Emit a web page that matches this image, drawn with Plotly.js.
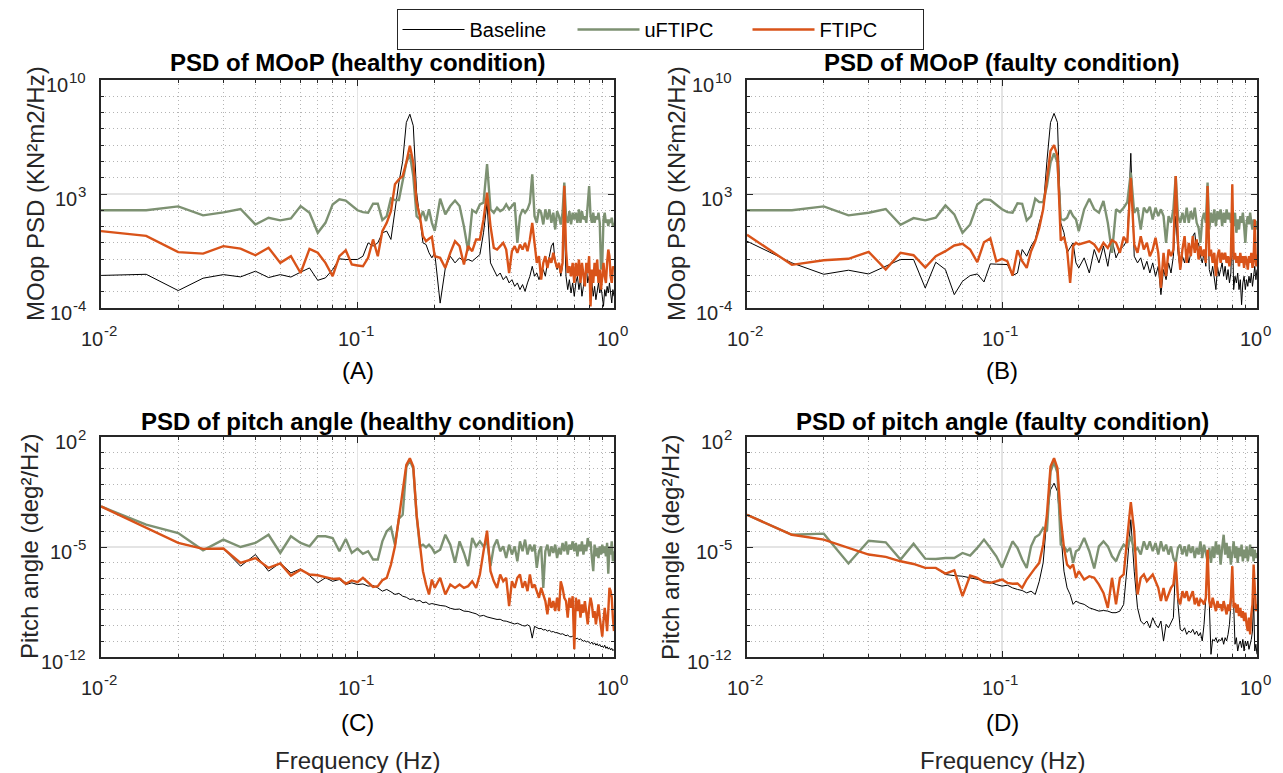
<!DOCTYPE html>
<html>
<head>
<meta charset="utf-8">
<script src="https://cdn.plot.ly/plotly-3.0.1.min.js"></script>
<style>html,body{margin:0;padding:0;background:#fff;}#chart{width:1283px;height:773px;}</style>
</head>
<body>
<div id="chart"></div>
<script>
// Frequency bins (Hz)
const freq = [0.01,0.015,0.02,0.025,0.03,0.035,0.04,0.045,0.05,0.055,0.06,0.065,0.07,0.075,0.08,0.085,0.09,0.095,0.1,
0.105,0.11,0.115,0.12,0.125,0.13,0.135,0.14,0.145,0.15,0.155,0.16,0.165,0.17,0.175,0.18,0.185,0.19,0.195,0.2,
0.21,0.22,0.23,0.24,0.25,0.26,0.27,0.28,0.29,0.3,
0.31,0.32,0.33,0.34,0.35,0.36,0.37,0.38,0.39,0.4,
0.41,0.42,0.43,0.44,0.45,0.46,0.47,0.48,0.49,0.5,
0.51,0.52,0.53,0.54,0.55,0.56,0.57,0.58,0.59,0.6,
0.61,0.62,0.63,0.64,0.65,0.66,0.67,0.68,0.69,0.7,
0.71,0.72,0.73,0.74,0.75,0.76,0.77,0.78,0.79,0.8,
0.81,0.82,0.83,0.84,0.85,0.86,0.87,0.88,0.89,0.9,
0.91,0.92,0.93,0.94,0.95,0.96,0.97,0.98,0.99,1.0];

// All PSD values below are log10(PSD).
// (A) MOoP, healthy
const moopHealthyBaseline = [-2.0,-1.93,-2.93,-2.17,-1.95,-2.09,-1.74,-2.13,-1.95,-2.1,-1.8,-1.54,-2.3,-2.15,-1.64,-0.98,-1.02,-1.02,-1.02,
-0.82,0.0,-0.2,0.0,0.62,0.72,0.21,2.06,3.7,5.0,7.39,7.9,7.19,3.08,1.64,0.0,-0.1,-0.61,-0.92,-0.61,
-3.7,-1.54,-0.82,-1.23,-0.92,-1.13,-1.02,-1.13,-0.92,-0.72,
0.62,2.47,-1.23,-1.64,-2.05,-1.85,-2.26,-2.05,-2.46,-2.26,
-2.67,-2.46,-2.87,-2.56,-2.98,-2.46,-2.05,-1.44,-2.05,-1.85,
-2.26,-1.85,-1.64,-2.05,-1.23,-0.82,-0.2,0.0,-1.23,-1.64,
-1.23,-2.05,-1.44,1.44,-2.05,-2.87,-2.26,-3.08,-2.46,-3.28,
-2.46,-2.05,-2.87,-2.26,-3.28,-2.67,-2.05,-1.44,-2.46,-2.05,
-3.08,-2.46,-3.28,-2.67,-3.49,-2.87,-2.46,-3.08,-2.67,-3.28,
-3.9,-2.87,-3.28,-2.67,-3.08,-2.46,-3.28,-3.69,-2.87,-3.28];
const moopHealthyUFTIPC = [2.0,2.0,2.24,1.69,1.87,2.08,1.13,1.54,1.38,1.5,2.26,1.85,0.62,1.23,2.36,2.67,2.6,2.26,2.0,
1.89,1.85,2.4,2.4,1.4,1.64,2.73,2.63,2.63,3.7,4.93,5.44,4.1,1.64,1.44,1.95,1.34,2.06,1.23,0.74,
2.71,1.75,2.26,2.6,2.26,1.0,-0.5,2.01,1.85,2.36,
2.47,4.83,2.06,1.85,2.16,1.95,2.06,2.36,2.06,2.26,
2.47,0.0,1.64,2.06,1.85,2.06,2.47,4.21,1.64,1.23,
2.06,1.85,1.13,2.06,1.44,2.06,1.23,1.85,0.82,1.95,
1.64,1.13,1.85,3.7,1.64,1.23,1.95,1.13,1.85,1.44,
1.85,1.23,2.06,1.23,1.95,1.44,1.64,1.23,2.47,3.49,
1.64,1.23,1.85,1.23,1.64,1.44,1.85,1.23,-1.64,-1.23,
1.44,1.85,1.23,1.44,1.03,1.44,1.23,1.54,1.03,1.23];
const moopHealthyFTIPC = [0.72,0.43,-0.57,-0.66,-0.2,-0.35,-0.76,-0.3,-1.23,-0.82,-1.85,-0.37,-0.61,-1.23,-2.05,-0.82,-0.45,-1.33,-1.39,
-1.44,-0.92,0.21,-0.82,0.72,1.23,1.95,3.6,3.9,4.1,4.93,5.96,4.93,2.47,1.64,0.41,0.1,0.25,0.37,-0.82,
-0.92,-1.54,-0.61,0.1,-0.2,-1.33,-0.2,-0.51,0.21,0.21,
1.44,3.08,1.03,-0.31,-0.41,-0.2,0.0,-0.41,-1.85,-0.51,
-0.2,-0.61,-0.1,-0.41,0.0,-0.51,0.21,1.23,-0.2,-1.23,
-0.82,-2.26,-1.23,-0.82,-1.54,-0.92,-1.23,-0.61,-1.13,-1.54,
-1.23,-1.85,-1.23,3.5,-0.41,-1.85,-1.44,-2.05,-1.23,-2.46,
-1.23,-2.05,-1.02,-2.46,-1.23,-2.05,-2.67,-1.23,-1.85,-0.82,
-3.9,-1.64,-2.46,-1.23,-2.05,-1.02,-2.46,-1.64,-2.87,-2.05,
-1.23,-2.05,-2.46,-1.23,-0.41,-0.82,-2.05,-2.46,-1.44,-1.64];

// (B) MOoP, faulty
const moopFaultyBaseline = [0.1,-1.23,-1.93,-1.68,-1.91,-1.44,-1.02,-1.02,-2.77,-1.19,-1.64,-3.18,-2.36,-2.01,-1.91,-2.4,-1.29,-1.31,-1.33,
-1.33,-2.01,-1.85,-0.41,-0.82,-0.2,0.21,1.23,2.06,5.0,7.39,7.95,7.39,1.23,0.62,-0.61,-0.31,0.0,-1.23,-1.54,
-0.92,-1.85,-0.41,-1.23,-0.2,-1.44,0.21,-0.92,-0.41,-0.2,
0.21,5.5,-0.82,-1.23,-0.92,-1.64,-1.13,-1.85,-1.23,-2.05,
-1.44,-3.18,-1.64,-2.26,-1.23,-1.85,-0.82,1.64,-0.61,-1.64,
-0.82,-1.23,-0.41,-1.23,-0.61,0.41,0.62,-0.41,0.0,-0.82,
-1.23,-0.61,-1.44,2.06,-1.64,-2.05,-1.44,-2.05,-2.87,-1.44,
-2.05,-1.64,-1.23,-2.05,-1.44,-2.26,-1.64,-2.46,-1.85,1.44,
-2.87,-2.05,-2.46,-1.85,-2.87,-2.26,-3.8,-2.46,-2.05,-2.87,
-2.26,-2.67,-2.05,-2.46,-1.85,-2.67,-2.05,-1.44,-2.26,-1.64];
const moopFaultyUFTIPC = [2.0,2.0,2.24,1.69,1.85,2.08,1.11,1.52,1.38,1.54,2.3,1.75,0.62,1.13,2.36,2.67,2.63,2.36,2.06,
1.89,1.85,2.43,2.4,1.38,1.64,2.71,2.5,2.5,3.49,4.93,5.5,4.93,1.48,1.4,1.54,2.0,1.64,1.44,0.72,
2.06,2.71,2.06,1.85,2.57,1.23,-0.61,2.06,1.89,2.16,
2.5,4.31,1.85,2.16,0.82,2.16,1.85,2.22,1.44,2.16,
1.64,2.06,1.64,0.0,1.64,1.23,2.06,4.1,1.64,1.23,
1.85,1.23,2.16,1.23,1.95,1.44,2.16,1.23,0.92,0.0,
1.44,1.85,1.23,3.7,0.82,1.85,1.23,2.06,1.03,1.95,
1.44,2.06,1.03,1.85,1.23,2.06,1.44,1.85,1.23,1.64,
1.03,1.85,0.62,1.44,0.82,1.64,1.23,1.85,1.03,0.0,
1.23,1.64,1.13,1.85,1.23,0.82,1.44,1.03,1.34,0.82];
const moopFaultyFTIPC = [0.5,-1.35,-1.07,-0.98,-0.55,-1.64,-0.61,-0.76,-1.52,-0.82,-0.51,-0.16,-0.06,-0.41,-1.19,0.04,0.27,-1.13,-0.98,
-1.13,-2.01,-0.45,-1.13,-1.54,-0.51,0.1,0.92,2.06,3.9,5.65,6.0,5.34,0.14,0.37,-0.41,-2.46,-0.2,0.0,-0.1,
0.0,0.1,-0.1,-0.51,0.0,-0.31,0.16,0.0,-0.61,0.37,
0.0,4.0,-0.1,-0.61,0.41,-0.41,0.0,-0.82,-0.41,0.31,
-0.61,-2.77,-0.61,-2.05,-0.41,-0.82,-0.41,4.1,0.0,-1.64,
-0.41,0.41,-1.23,0.0,-0.82,0.41,-0.61,0.21,-1.02,-0.2,
-0.82,-0.41,-1.23,3.49,-0.82,-0.41,-1.23,-0.61,-2.05,-0.82,
-0.41,-1.23,-0.61,-1.02,-0.61,-1.23,-0.82,-1.44,-0.82,3.6,
-1.02,-0.61,-1.23,-0.82,-1.44,-0.61,-1.23,-0.82,-1.54,-0.82,
-1.02,-1.64,-0.82,-1.23,-0.61,-1.54,-1.02,1.44,-1.44,-0.72];

// (C) Pitch angle, healthy
const pitchHealthyBaseline = [-2.42,-3.79,-4.74,-5.12,-5.1,-6.22,-5.48,-6.54,-6.01,-6.65,-6.39,-6.82,-7.28,-6.96,-7.18,-7.07,-7.39,-7.28,-7.39,
-7.35,-7.49,-7.45,-7.6,-7.81,-7.7,-7.85,-8.02,-7.95,-8.13,-8.2,-8.34,-8.3,-8.44,-8.4,-8.55,-8.5,-8.65,-8.6,-8.65,
-8.72,-8.76,-8.9,-8.97,-8.95,-9.08,-9.1,-9.18,-9.25,-9.4,
-9.35,-9.45,-9.5,-9.55,-9.61,-9.6,-9.7,-9.72,-9.78,-9.82,
-9.9,-9.85,-9.95,-10.0,-10.03,-9.95,-10.05,-10.8,-10.05,-10.14,
-10.2,-10.18,-10.28,-10.25,-10.35,-10.3,-10.4,-10.38,-10.45,-10.45,
-10.5,-10.55,-10.52,-10.6,-10.65,-10.6,-10.7,-10.72,-10.68,-10.77,
-10.85,-10.8,-10.9,-10.85,-10.95,-11.0,-10.95,-11.05,-11.0,-11.09,
-11.15,-11.05,-11.2,-11.1,-11.25,-11.15,-11.3,-11.2,-11.35,-11.3,
-11.4,-11.25,-11.45,-11.35,-11.5,-11.4,-11.55,-11.45,-11.6,-11.51];
const pitchHealthyUFTIPC = [-2.42,-3.58,-4.11,-5.21,-4.53,-5.0,-4.74,-4.22,-5.38,-4.32,-4.74,-4.96,-4.32,-4.32,-4.43,-5.27,-4.49,-5.38,-5.1,
-5.44,-5.27,-5.8,-5.8,-4.64,-4.0,-3.75,-4.85,-3.2,-2.95,0.1,0.5,0.0,-3.0,-4.96,-4.85,-5.02,-4.85,-5.06,-5.38,
-5.17,-4.22,-4.85,-6.0,-4.64,-5.38,-6.22,-4.43,-4.96,-4.64,
-4.96,-4.64,-6.22,-4.96,-4.53,-5.27,-4.96,-5.7,-4.85,-5.48,
-4.96,-5.91,-4.64,-5.27,-4.53,-5.48,-4.85,-5.27,-4.85,-6.33,
-5.27,-4.96,-7.6,-5.27,-4.85,-5.59,-4.96,-5.38,-4.85,-5.7,
-5.06,-5.48,-4.74,-5.27,-4.64,-5.48,-4.85,-5.17,-4.64,-5.27,
-4.74,-5.59,-4.85,-5.27,-4.64,-5.48,-4.85,-5.27,-4.43,-4.96,
-4.64,-5.7,-6.54,-4.85,-5.59,-5.06,-5.7,-4.96,-5.48,-4.85,
-5.38,-4.96,-5.59,-4.74,-6.7,-4.96,-5.48,-4.64,-5.91,-5.27];
const pitchHealthyFTIPC = [-2.42,-3.79,-4.74,-5.12,-5.1,-6.01,-5.7,-6.33,-6.05,-6.82,-6.44,-6.75,-6.8,-6.92,-7.03,-7.0,-7.34,-7.13,-7.24,
-6.96,-7.28,-7.54,-7.49,-7.11,-6.96,-6.12,-4.96,-3.16,-1.26,0.22,0.65,0.12,-2.95,-4.64,-6.54,-7.39,-8.02,-7.07,-7.6,
-6.96,-8.02,-7.39,-7.6,-7.39,-7.6,-7.49,-7.18,-7.6,-6.75,
-5.27,-3.96,-6.54,-7.18,-7.6,-6.75,-7.18,-6.96,-8.76,-7.18,
-7.6,-6.96,-6.75,-7.6,-7.18,-7.81,-6.75,-7.6,-7.39,-7.81,
-8.23,-7.6,-8.02,-8.44,-9.29,-8.23,-8.87,-8.44,-9.08,-8.23,
-9.08,-7.18,-7.6,-8.23,-8.44,-9.5,-8.23,-8.87,-8.13,-11.5,
-8.23,-9.08,-8.34,-9.5,-8.65,-9.18,-8.44,-9.29,-9.92,-8.87,
-8.23,-8.65,-9.5,-9.08,-9.92,-9.29,-8.65,-9.5,-10.35,-10.7,
-9.71,-8.87,-9.5,-10.35,-9.08,-7.6,-7.81,-8.23,-9.5,-10.35];

// (D) Pitch angle, faulty
const pitchFaultyBaseline = [-2.95,-4.22,-4.53,-5.06,-5.48,-5.63,-5.91,-6.08,-6.33,-6.33,-6.75,-6.82,-6.86,-6.96,-7.07,-7.13,-7.24,-7.39,-7.49,
-7.43,-7.6,-7.7,-7.77,-7.92,-7.81,-8.02,-7.18,-6.01,-3.16,-1.36,-0.94,-1.47,-4.0,-6.54,-7.6,-8.02,-8.65,-8.44,-8.55,
-8.65,-8.87,-8.97,-9.08,-9.04,-9.08,-9.18,-9.18,-9.08,-8.65,
-6.12,-3.26,-6.54,-8.87,-9.71,-9.92,-9.71,-10.14,-9.5,-9.92,
-10.14,-9.71,-10.98,-9.92,-10.14,-9.82,-9.5,-5.91,-8.65,-10.24,
-10.35,-10.14,-10.56,-10.35,-10.45,-10.24,-10.56,-10.35,-10.66,-10.45,
-10.98,-9.92,-8.23,-5.27,-8.23,-11.83,-10.88,-10.98,-10.77,-11.09,
-10.88,-10.98,-10.77,-11.19,-10.77,-10.98,-10.56,-9.92,-8.65,-6.33,
-8.65,-11.19,-10.77,-11.62,-11.19,-10.98,-11.4,-10.88,-11.62,-10.98,
-11.3,-10.98,-11.51,-11.19,-10.88,-10.35,-8.23,-11.62,-11.19,-11.83];
const pitchFaultyUFTIPC = [-2.95,-4.22,-4.15,-6.05,-4.6,-4.7,-5.8,-4.79,-5.74,-5.76,-5.7,-5.7,-5.38,-5.55,-5.06,-4.53,-5.06,-5.59,-6.3,
-5.48,-4.64,-5.06,-5.8,-6.33,-4.96,-4.38,-4.22,-3.79,-4.0,-0.2,0.4,-0.3,-4.85,-4.96,-5.27,-5.06,-6.01,-5.27,-5.17,
-4.43,-5.27,-6.37,-4.96,-4.64,-4.96,-5.59,-5.91,-5.27,-4.85,
-5.06,-4.3,-5.27,-5.06,-5.48,-4.64,-5.17,-4.64,-5.27,-4.74,
-5.48,-4.64,-5.27,-4.85,-5.48,-4.96,-5.7,-6.01,-5.06,-4.85,
-5.48,-4.96,-5.59,-4.85,-5.38,-4.96,-5.7,-5.06,-5.48,-4.64,
-5.7,-4.85,-5.38,-5.91,-5.06,-6.01,-4.96,-5.7,-4.64,-5.48,
-4.85,-6.12,-5.06,-4.22,-5.48,-4.74,-5.7,-4.96,-6.12,-5.27,
-4.64,-5.7,-4.96,-6.01,-5.06,-5.59,-4.85,-5.91,-5.17,-5.7,
-4.96,-5.91,-5.27,-4.85,-5.59,-5.06,-5.91,-5.17,-5.7,-5.38];
const pitchFaultyFTIPC = [-2.95,-4.22,-4.53,-5.06,-5.48,-5.63,-5.91,-6.08,-6.33,-6.33,-6.69,-6.48,-8.13,-6.82,-6.96,-7.24,-7.28,-7.18,-7.07,
-7.28,-7.34,-7.32,-7.6,-7.07,-6.65,-6.33,-6.01,-4.85,-2.95,0.12,0.65,0.01,-3.16,-5.06,-6.12,-6.33,-6.12,-6.96,-6.54,
-7.07,-6.86,-6.96,-7.39,-7.92,-8.87,-6.96,-8.65,-6.96,-6.75,
-4.22,-2.14,-4.0,-8.02,-6.96,-6.75,-7.18,-6.96,-6.75,-7.18,
-7.6,-8.44,-7.6,-8.44,-8.02,-7.6,-7.39,-5.95,-8.23,-8.65,
-7.81,-8.23,-7.81,-8.44,-8.13,-7.81,-8.65,-8.23,-8.76,-8.34,
-8.44,-8.65,-8.23,-5.17,-8.44,-8.87,-8.23,-8.65,-9.08,-8.44,
-8.87,-8.65,-9.08,-8.44,-8.87,-9.29,-8.65,-9.08,-8.23,-6.22,
-8.87,-8.55,-9.18,-8.65,-9.4,-8.87,-9.5,-9.08,-9.71,-9.18,
-9.92,-10.35,-9.5,-10.56,-9.29,-8.65,-6.12,-8.23,-9.08,-8.65];

const seriesNames = ['Baseline','uFTIPC','FTIPC'];
const panelTitles = ['PSD of MOoP (healthy condition)','PSD of MOoP (faulty condition)',
                     'PSD of pitch angle (healthy condition)','PSD of pitch angle (faulty condition)'];
const panelLabels = ['(A)','(B)','(C)','(D)'];
const yTitles = ['MOop PSD (KN\u00B2m2/Hz)','MOop PSD (KN\u00B2m2/Hz)',
                 'Pitch angle (deg\u00B2/Hz)','Pitch angle (deg\u00B2/Hz)'];
const xLabel = 'Frequency (Hz)';
// tick labels: base "10" with a raised exponent
const tickBase = '10';
const xTickVals = [0.01,0.1,1];
const xTickExp = ['-2','-1','0'];
const yTickValsMoop = [1e-4,1e3,1e10];
const yTickExpMoop = ['-4','3','10'];
const yTickValsPitch = [1e-12,1e-5,1e2];
const yTickExpPitch = ['-12','-5','2'];

// ---------- drawing ----------
const W = 1283, H = 773;
const colors = ['#000000','#7d9172','#d95319'];
const widths = [1.0,2.4,2.4];
const panels = [
  {data:[moopHealthyBaseline,moopHealthyUFTIPC,moopHealthyFTIPC], x:[101,614], y:[80,308], yr:[-4,10], tv:yTickValsMoop, te:yTickExpMoop},
  {data:[moopFaultyBaseline,moopFaultyUFTIPC,moopFaultyFTIPC],   x:[747,1257], y:[80,308], yr:[-4,10], tv:yTickValsMoop, te:yTickExpMoop},
  {data:[pitchHealthyBaseline,pitchHealthyUFTIPC,pitchHealthyFTIPC], x:[101,614], y:[437,657], yr:[-12,2], tv:yTickValsPitch, te:yTickExpPitch},
  {data:[pitchFaultyBaseline,pitchFaultyUFTIPC,pitchFaultyFTIPC],   x:[747,1257], y:[437,657], yr:[-12,2], tv:yTickValsPitch, te:yTickExpPitch}
];
const fontFam = 'Liberation Sans, Arial, Helvetica, sans-serif';
const ink = '#262626';
const xMinor = [0.02,0.03,0.04,0.05,0.06,0.07,0.08,0.09,0.2,0.3,0.4,0.5,0.6,0.7,0.8,0.9];
const BASE_FS = 20, EXP_FS = 15;
const glyphW = c => (c === '-' ? 0.333 : 0.556);
const textW = (s, fs) => s.split('').reduce((a, c) => a + glyphW(c), 0) * fs;
const baseW = textW(tickBase, BASE_FS);

const traces = [];
const layout = {
  width: W, height: H,
  margin: {l:0,r:0,t:0,b:0},
  paper_bgcolor: '#ffffff', plot_bgcolor: '#ffffff',
  font: {family: fontFam, color: ink},
  showlegend: true,
  legend: {orientation:'h', x: 660/W, xanchor:'center', y: 1-9/H, yanchor:'top',
           bordercolor: ink, borderwidth: 1, bgcolor:'#ffffff',
           font:{size:20, color:'#000000', family: fontFam},
           itemwidth: 62, entrywidth: 98, entrywidthmode:'pixels', tracegroupgap: 0},
  annotations: []
};
const ann = o => layout.annotations.push(Object.assign({showarrow:false, borderpad:0, borderwidth:0}, o));

panels.forEach((p, i) => {
  const n = i === 0 ? '' : String(i+1);
  const xa = 'x' + n, ya = 'y' + n;
  p.data.forEach((arr, k) => {
    traces.push({
      type:'scatter', mode:'lines', x: freq, y: arr.map(v => Math.pow(10, v)),
      xaxis: xa, yaxis: ya, name: seriesNames[k], showlegend: i === 0,
      line: {color: colors[k], width: widths[k]}, hoverinfo:'skip'
    });
  });
  const yMinor = [];
  for (let e = p.yr[0]; e <= p.yr[1]; e++) {
    if (!p.tv.some(t => Math.abs(Math.log10(t) - e) < 1e-9)) yMinor.push(Math.pow(10, e));
  }
  const minorStyle = {ticks:'inside', ticklen:3, tickcolor: ink,
                      showgrid:true, gridcolor:'#b4b4b4', griddash:'1px,3px', gridwidth:1};
  const common = {type:'log', tickmode:'array', showticklabels:false,
    ticks:'inside', ticklen: 6, tickwidth: 1, tickcolor: ink,
    showline:true, linecolor: ink, linewidth: 1.6, mirror:'allticks',
    showgrid:true, gridcolor:'#e4e4e4', gridwidth:1.2, zeroline:false, fixedrange:true};
  layout['xaxis' + n] = Object.assign({}, common, {
    range:[-2,0], domain:[p.x[0]/W, p.x[1]/W], anchor: ya, tickvals: xTickVals,
    minor: Object.assign({tickvals: xMinor}, minorStyle)});
  layout['yaxis' + n] = Object.assign({}, common, {
    range: p.yr, domain:[1 - p.y[1]/H, 1 - p.y[0]/H], anchor: xa, tickvals: p.tv,
    minor: Object.assign({tickvals: yMinor}, minorStyle)});

  // x tick labels (placed on the x scale)
  xTickVals.forEach((v, j) => {
    const ew = textW(xTickExp[j], EXP_FS);
    const total = baseW + 1 + ew;
    const baseShift = -total / 2 + baseW / 2 - 1.5;
    ann({xref: xa, yref:'paper', x: Math.log10(v), y: 1 - (p.y[1] + 30.5)/H, xshift: baseShift,
         xanchor:'center', yanchor:'middle', text: tickBase, font:{size:BASE_FS, color: ink, family: fontFam}});
    ann({xref: xa, yref:'paper', x: Math.log10(v), y: 1 - (p.y[1] + 22)/H, xshift: baseShift + baseW/2 + 1,
         xanchor:'left', yanchor:'middle', text: xTickExp[j], font:{size:EXP_FS, color: ink, family: fontFam}});
  });
  // y tick labels (placed on the y scale)
  p.tv.forEach((v, j) => {
    const ew = textW(p.te[j], EXP_FS);
    const right = p.x[0] - 15;
    ann({xref:'paper', yref: ya, x: (right - ew - 1)/W, y: Math.log10(v), yshift: -5,
         xanchor:'right', yanchor:'middle', text: tickBase, font:{size:BASE_FS, color: ink, family: fontFam}});
    ann({xref:'paper', yref: ya, x: right/W, y: Math.log10(v), yshift: 3,
         xanchor:'right', yanchor:'middle', text: p.te[j], font:{size:EXP_FS, color: ink, family: fontFam}});
  });

  const cx = (p.x[0] + p.x[1]) / 2;
  const cy = (p.y[0] + p.y[1]) / 2;
  const top = i < 2;
  ann({xref:'paper', yref:'paper', x: cx/W, y: 1 - (top ? 63 : 421)/H, xanchor:'center', yanchor:'middle',
       text:'<b>' + panelTitles[i] + '</b>', font:{size:24, color:'#000000', family: fontFam}});
  ann({xref:'paper', yref:'paper', x: (p.x[0] - (i % 2 === 0 ? 66 : 71) - (top ? 0 : 6))/W, y: 1 - cy/H,
       xanchor:'center', yanchor:'middle', textangle:-90,
       text: yTitles[i], font:{size:24, color: ink, family: fontFam}});
  ann({xref:'paper', yref:'paper', x: cx/W, y: 1 - (top ? 371 : 722)/H, xanchor:'center', yanchor:'middle',
       text: panelLabels[i], font:{size:24, color:'#000000', family: fontFam}});
  if (!top) {
    ann({xref:'paper', yref:'paper', x: cx/W, y: 1 - 760/H, xanchor:'center', yanchor:'middle',
         text: xLabel, font:{size:24, color: ink, family: fontFam}});
  }
});

Plotly.newPlot('chart', traces, layout, {displayModeBar:false, staticPlot:true});
</script>
</body>
</html>
